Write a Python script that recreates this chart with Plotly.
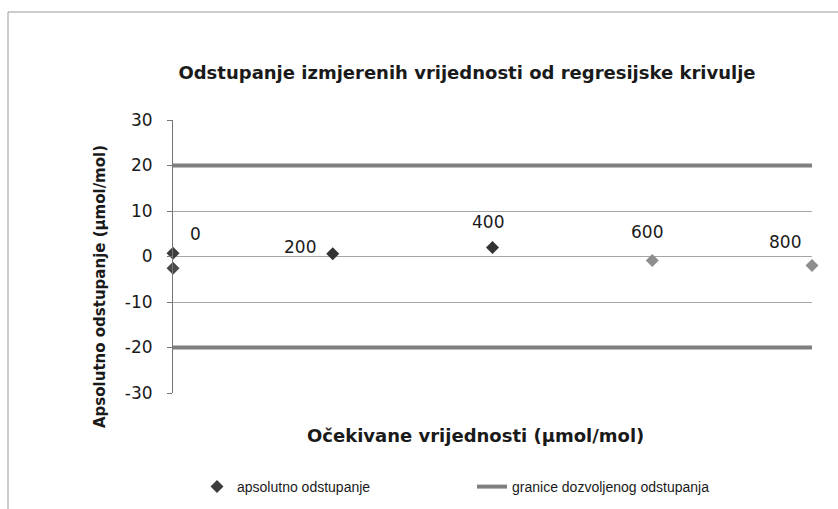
import plotly.graph_objects as go

# ---- data ----
x_expected = [0, 0, 200, 400, 600, 800]
y_deviation = [0.7, -2.6, 0.6, 2.0, -0.9, -2.0]
point_labels = ["0", "", "200", "400", "600", "800"]
limit_x = [0, 800]
limit_upper = [20, 20]
limit_lower = [-20, -20]
y_ticks = [-30, -20, -10, 0, 10, 20, 30]
y_tick_labels = ["-30", "-20", "-10", "0", "10", "20", "30"]

title_text = "Odstupanje izmjerenih vrijednosti od regresijske krivulje"
x_title = "Očekivane vrijednosti (µmol/mol)"
y_title = "Apsolutno odstupanje (µmol/mol)"
series_points = "apsolutno odstupanje"
series_limits = "granice dozvoljenog odstupanja"

# ---- styles ----
FONT = "Liberation Sans, Arial, sans-serif"
WIDE_FONT = "DejaVu Sans, Liberation Sans, sans-serif"
TEXT = "#1a1a1a"
point_colors = ["#3c3c3c", "#4a4a4a", "#333333", "#333333", "#8e8e8e", "#8e8e8e"]
label_shift = [(22, 19), (0, 0), (-33, 7), (-5, 25), (-5, 29), (-27, 24)]
LIMIT_COLOR = "#7f7f7f"
GRID_COLOR = "#a6a6a6"

# plot-area geometry in pixels (for placing titles outside the plot)
PL, PR, PT, PB = 173, 812, 120, 393
PW, PH = PR - PL, PB - PT


def px_to_paper(xp, yp):
    return (xp - PL) / PW, (PB - yp) / PH


fig = go.Figure()

# limit lines
fig.add_trace(go.Scatter(
    x=limit_x, y=limit_upper, mode="lines", name=series_limits,
    line=dict(color=LIMIT_COLOR, width=4), showlegend=True, legendrank=2,
    hoverinfo="skip"))
fig.add_trace(go.Scatter(
    x=limit_x, y=limit_lower, mode="lines", name=series_limits,
    line=dict(color=LIMIT_COLOR, width=4), showlegend=False,
    hoverinfo="skip"))

# points
fig.add_trace(go.Scatter(
    x=x_expected, y=y_deviation, mode="markers", name=series_points,
    marker=dict(symbol="diamond", size=10, color=point_colors,
                line=dict(width=0)),
    cliponaxis=False, legendrank=1))

annotations = []
for xv, yv, lab, (dx, dy) in zip(x_expected, y_deviation, point_labels, label_shift):
    if not lab:
        continue
    annotations.append(dict(
        x=xv, y=yv, xref="x", yref="y", text=lab, showarrow=False,
        xshift=dx, yshift=dy, font=dict(family=WIDE_FONT, size=17, color=TEXT)))

# axis titles (placed as in the reference)
xt_x, xt_y = px_to_paper(475, 435)
annotations.append(dict(
    x=xt_x, y=xt_y, xref="paper", yref="paper", text="<b>" + x_title + "</b>",
    showarrow=False, xanchor="center", yanchor="middle",
    font=dict(family=WIDE_FONT, size=18, color=TEXT)))
yt_x, yt_y = px_to_paper(100, 287)
annotations.append(dict(
    x=yt_x, y=yt_y, xref="paper", yref="paper", text="<b>" + y_title + "</b>",
    showarrow=False, xanchor="center", yanchor="middle", textangle=-90,
    font=dict(family=WIDE_FONT, size=15, color=TEXT)))

fig.update_layout(
    width=838, height=509,
    margin=dict(l=PL, r=838 - PR, t=PT, b=509 - PB, autoexpand=False),
    paper_bgcolor="white", plot_bgcolor="white",
    font=dict(family=FONT, color=TEXT),
    title=dict(text="<b>" + title_text + "</b>", x=467 / 838, xref="container",
               xanchor="center", y=1 - 73 / 509, yanchor="middle",
               font=dict(family=WIDE_FONT, size=18, color=TEXT)),
    xaxis=dict(range=[0, 800], showticklabels=False, showgrid=False,
               zeroline=False, showline=False, ticks="", automargin=False),
    yaxis=dict(range=[-30, 30], tickvals=y_ticks, ticktext=y_tick_labels,
               showgrid=True, automargin=False,
               gridcolor=GRID_COLOR, gridwidth=1, zeroline=True,
               zerolinecolor=GRID_COLOR, zerolinewidth=1,
               showline=True, linecolor="#777777", linewidth=1,
               ticks="outside", ticklen=5, tickcolor="#777777",
               ticklabelstandoff=11,
               tickfont=dict(family=WIDE_FONT, size=17, color=TEXT)),
    legend=dict(orientation="h", x=(197 - PL) / PW, xanchor="left",
                y=(PB - 487) / PH, yanchor="middle",
                entrywidth=230, entrywidthmode="pixels",
                font=dict(family=FONT, size=14, color=TEXT),
                traceorder="normal", bgcolor="rgba(0,0,0,0)"),
    annotations=annotations,
    shapes=[dict(type="rect", xref="paper", yref="paper",
                 x0=(8 - PL) / PW, x1=(845 - PL) / PW,
                 y0=(PB - 520) / PH, y1=(PB - 12) / PH,
                 line=dict(color="#9a9a9a", width=1), layer="below")],
    showlegend=True,
)

fig.write_html("out.html", config={"displayModeBar": False},
               post_script="document.body.style.margin='0';document.body.style.overflow='hidden';")
